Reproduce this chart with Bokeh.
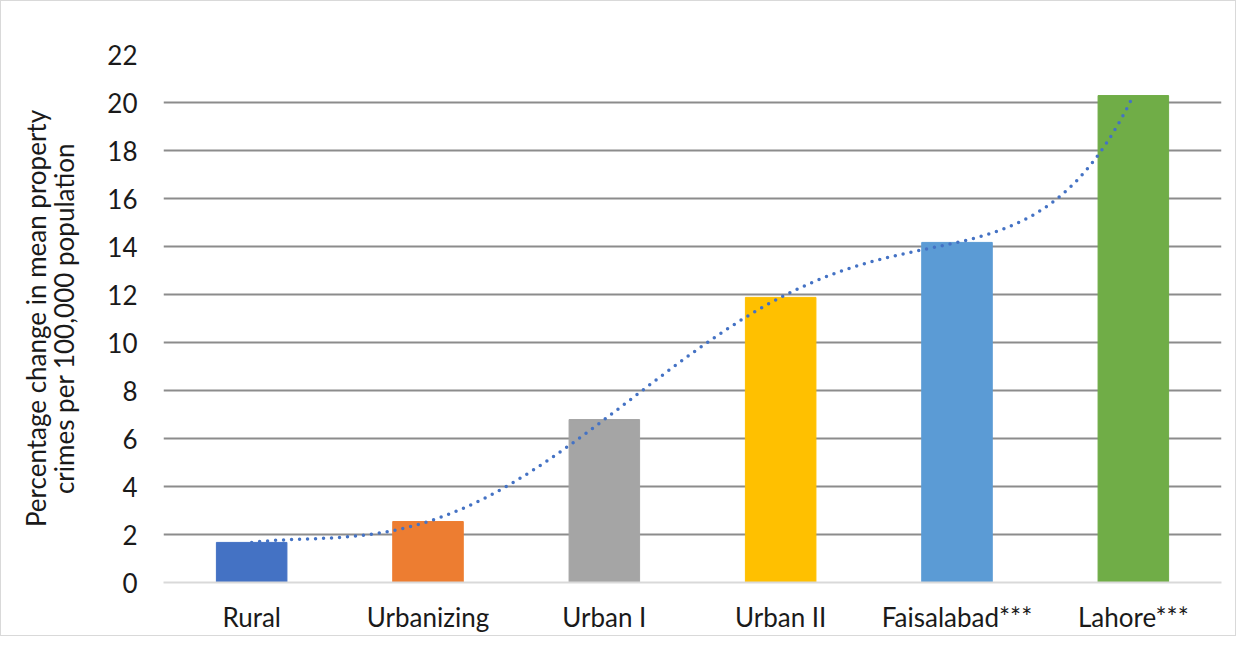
import numpy as np
from bokeh.plotting import figure
from bokeh.models import Range1d, FixedTicker, ColumnDataSource
from bokeh.embed import file_html
from bokeh.resources import INLINE

categories = ["Rural", "Urbanizing", "Urban I", "Urban II", "Faisalabad***", "Lahore***"]
values = [1.67, 2.54, 6.79, 11.88, 14.17, 20.29]
colors = ["#4472C4", "#ED7D31", "#A5A5A5", "#FFC000", "#5B9BD5", "#70AD47"]
y_ticks = [0, 2, 4, 6, 8, 10, 12, 14, 16, 18, 20, 22]

x_pos = list(range(1, len(categories) + 1))

p = figure(width=1236, height=636, output_backend="svg", toolbar_location=None,
           x_range=Range1d(0.5, len(categories) + 0.5), y_range=Range1d(0, 22),
           min_border_left=162, min_border_right=16, min_border_top=53, min_border_bottom=55,
           styles={"border": "1px solid #D9D9D9"})
p.outline_line_color = None

src = ColumnDataSource(dict(x=x_pos, top=values, color=colors))
p.vbar(x="x", top="top", width=0.40, color="color", source=src)

# Polynomial (order 5) trendline through the series, as in the original chart
coef = np.polyfit(x_pos, values, 5)
xs = np.linspace(1, len(categories), 300)
ys = np.polyval(coef, xs)
p.line(xs, ys, line_color="#4472C4", line_width=3.5, line_dash="0 8", line_cap="round")

# axes
p.xaxis.ticker = FixedTicker(ticks=x_pos)
p.xaxis.major_label_overrides = {i: c for i, c in zip(x_pos, categories)}
p.yaxis.ticker = FixedTicker(ticks=y_ticks)
p.xgrid.visible = False
p.ygrid.grid_line_color = "#8C8C8C"
p.ygrid.grid_line_width = 2

for ax in (p.xaxis[0], p.yaxis[0]):
    ax.major_tick_line_color = None
    ax.minor_tick_line_color = None
    ax.major_label_text_font = "Lato"
    ax.major_label_text_font_size = "26px"
    ax.major_label_text_color = "#1A1A1A"

p.xaxis.axis_line_color = "#D9D9D9"
p.xaxis.axis_line_width = 2
p.yaxis.axis_line_color = None
p.xaxis.major_label_standoff = 12
p.yaxis.major_label_standoff = 20

p.yaxis.axis_label = "Percentage change in mean property\ncrimes per 100,000 population"
p.yaxis.axis_label_text_font = "Lato"
p.yaxis.axis_label_text_font_size = "26px"
p.yaxis.axis_label_text_font_style = "normal"
p.yaxis.axis_label_text_color = "#1A1A1A"
p.yaxis.axis_label_text_line_height = 0.9
p.yaxis.axis_label_standoff = 24

open("out.html", "w").write(file_html(p, INLINE))
